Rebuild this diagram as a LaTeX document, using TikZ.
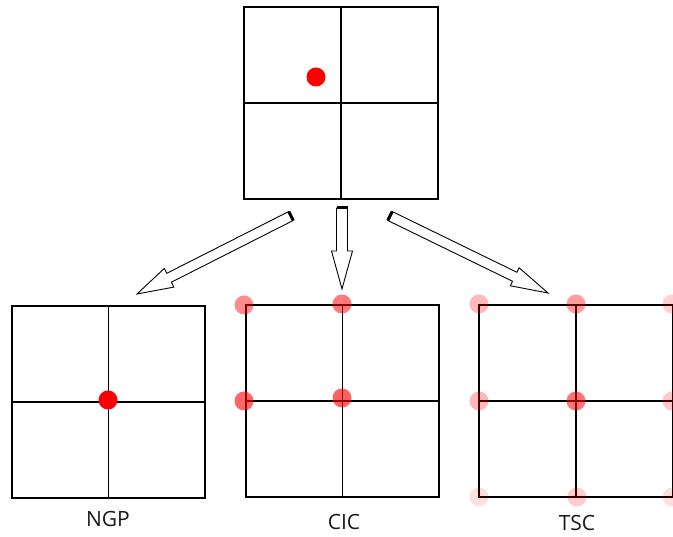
\documentclass[tikz,border=0pt]{standalone}
\usepackage{fontspec}
\setsansfont{Open Sans}
\usetikzlibrary{calc}

\tikzset{
  gridbox/.style={draw=black, line width=1.3pt, minimum width=#1, minimum height=192pt,
    inner sep=0pt, outer sep=0pt},
  gridline/.style={draw=black, line width=1.3pt},
  charge/.style={fill=red, fill opacity=#1, draw=none},
  charge/.default=1,
  schemename/.style={font=\sffamily\fontsize{21}{25}\selectfont, text=black!90, inner sep=0pt},
  arrowbody/.style={draw=black, line width=0.9pt, fill=white, line join=miter},
  arrowcap/.style={draw=black, line width=3pt, line cap=butt},
}

% hollow block arrow: tail, tip, half shaft width, half head width, head length
\newcommand\hollowarrow[5]{%
  \coordinate (#1-h) at ($(#2)!#5!(#1)$);
  \path[arrowbody]
    ($(#1)!#3!90:(#2)$) -- ($(#1-h)!#3!90:(#2)$) -- ($(#1-h)!#4!90:(#2)$) -- (#2)
    -- ($(#1-h)!#4!-90:(#2)$) -- ($(#1-h)!#3!-90:(#2)$) -- ($(#1)!#3!-90:(#2)$) -- cycle;
  \path[arrowcap] ($(#1)!#3!90:(#2)$) -- ($(#1)!#3!-90:(#2)$);
}

% weighted charge blob at a grid node
\newcommand\chargeblob[3]{\fill[charge=#3] (#1,#2) circle[radius=9.5pt];}

\begin{document}
\begin{tikzpicture}[x=1pt, y=-1pt]
  \useasboundingbox (0,0) rectangle (673,537);
  \clip (0,0) rectangle (673,537);

  % source cell with the particle
  \node[gridbox=194pt] (src) at (341,103) {};
  \path[gridline] (src.north) -- (src.south) (src.west) -- (src.east);
  \fill[charge] (316,77) circle[radius=9.5pt];

  % nearest grid point
  \node[gridbox=193pt] (ngp) at (108.5,402) {};
  \path[gridline] (ngp.north) -- (ngp.south) (ngp.west) -- (ngp.east);
  \fill[charge] (108,400) circle[radius=9.5pt];
  \node[schemename] (ngplabel) at (108,519) {NGP};

  % cloud in cell
  \node[gridbox=193pt] (cic) at (342.5,401) {};
  \path[gridline] (cic.north) -- (cic.south) (cic.west) -- (cic.east);
  \chargeblob{244}{305}{0.45}
  \chargeblob{342}{304}{0.52}
  \chargeblob{244}{401}{0.6}
  \chargeblob{342}{398}{0.62}
  \node[schemename] (ciclabel) at (344,522) {CIC};

  % triangular shaped cloud
  \node[gridbox=194pt] (tsc) at (576,401) {};
  \path[gridline] (tsc.north) -- (tsc.south) (tsc.west) -- (tsc.east);
  \chargeblob{479}{304}{0.28}
  \chargeblob{576}{304}{0.38}
  \chargeblob{672}{304}{0.18}
  \chargeblob{479}{401}{0.28}
  \chargeblob{576}{401}{0.55}
  \chargeblob{672}{401}{0.22}
  \chargeblob{479}{497}{0.13}
  \chargeblob{577}{497}{0.2}
  \chargeblob{672}{497}{0.13}
  \node[schemename] (tsclabel) at (577,523) {TSC};

  % assignment arrows
  \coordinate (lt) at (291,216);  \coordinate (lh) at (137,294);
  \coordinate (mt) at (342,208);  \coordinate (mh) at (342,289);
  \coordinate (rt) at (390,216);  \coordinate (rh) at (548,293);
  \hollowarrow{lt}{lh}{5pt}{10.5pt}{36pt}
  \hollowarrow{mt}{mh}{5.5pt}{10.5pt}{38pt}
  \hollowarrow{rt}{rh}{5pt}{10pt}{37pt}
\end{tikzpicture}
\end{document}
